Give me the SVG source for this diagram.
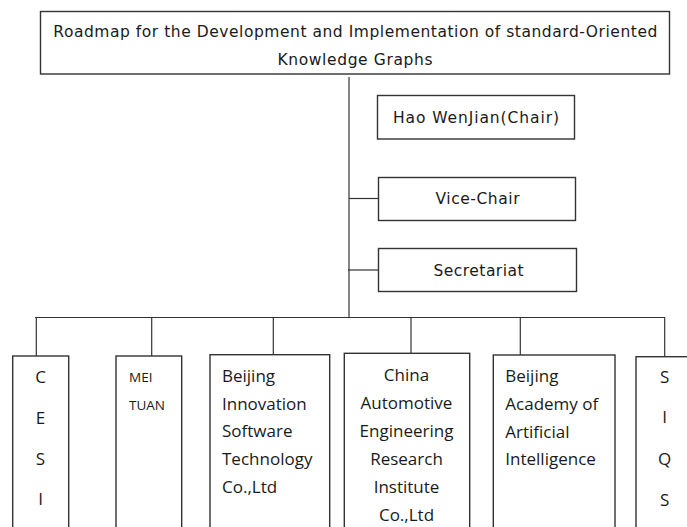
<svg xmlns="http://www.w3.org/2000/svg" width="687" height="527" viewBox="0 0 687 527">
<style>
.box{fill:#fff;stroke:#333;stroke-width:1.4}
.ln{stroke:#333;stroke-width:1.2;fill:none}
.t1{font-family:"DejaVu Sans","Liberation Sans",sans-serif;font-size:15.5px;fill:#1a1a1a}
.t2{font-family:"Open Sans","Liberation Sans",sans-serif;font-size:17px;fill:#1a1a1a}
.t3{font-family:"Open Sans","Liberation Sans",sans-serif;font-size:13.5px;fill:#1a1a1a}
.c{text-anchor:middle}
</style>
<rect width="687" height="527" fill="#fff"/>
<g id="connectors">
<path class="ln" d="M349,77V318"/>
<path class="ln" d="M349,198.5H378"/>
<path class="ln" d="M348,270H378"/>
<path class="ln" d="M35,317.5H665"/>
<path class="ln" d="M36.3,317.5V356"/>
<path class="ln" d="M151.7,317.5V356"/>
<path class="ln" d="M273.3,317.5V355"/>
<path class="ln" d="M411,317.5V353"/>
<path class="ln" d="M520.3,317.5V355"/>
<path class="ln" d="M664.7,317.5V357"/>
</g>
<g id="title">
<rect class="box" x="40.5" y="11.5" width="629" height="62.5"/>
<text class="t1 c" x="355.3" y="37" textLength="604">Roadmap for the Development and Implementation of standard-Oriented</text>
<text class="t1 c" x="355" y="64.5" textLength="155">Knowledge Graphs</text>
</g>
<g id="chair">
<rect class="box" x="377.5" y="95.5" width="197" height="43.5"/>
<text class="t1 c" x="476" y="122.5" textLength="166">Hao WenJian(Chair)</text>
</g>
<g id="vicechair">
<rect class="box" x="378.5" y="177.5" width="197" height="43"/>
<text class="t1 c" x="477.5" y="204" textLength="84">Vice-Chair</text>
</g>
<g id="secretariat">
<rect class="box" x="378.5" y="248.5" width="198" height="43"/>
<text class="t1 c" x="478.5" y="275.5" textLength="90">Secretariat</text>
</g>
<g id="cesi">
<rect class="box" x="12.7" y="356" width="56" height="190"/>
<text class="t2 c" x="40.5" y="383">C</text>
<text class="t2 c" x="40.5" y="424">E</text>
<text class="t2 c" x="40.5" y="465">S</text>
<text class="t2 c" x="40.5" y="505">I</text>
</g>
<g id="meituan">
<rect class="box" x="116" y="356" width="65.7" height="190"/>
<text class="t3" x="129" y="382">MEI</text>
<text class="t3" x="129" y="410">TUAN</text>
</g>
<g id="bist">
<rect class="box" x="210" y="354.7" width="119.7" height="190"/>
<text class="t2" x="222" y="382">Beijing</text>
<text class="t2" x="222" y="409.7">Innovation</text>
<text class="t2" x="222" y="437.4">Software</text>
<text class="t2" x="222" y="465.1">Technology</text>
<text class="t2" x="222" y="492.8">Co.,Ltd</text>
</g>
<g id="caeri">
<rect class="box" x="344.3" y="353.3" width="125.4" height="190"/>
<text class="t2 c" x="406.5" y="381">China</text>
<text class="t2 c" x="406.5" y="409">Automotive</text>
<text class="t2 c" x="406.5" y="436.7">Engineering</text>
<text class="t2 c" x="406.5" y="465">Research</text>
<text class="t2 c" x="406.5" y="492.7">Institute</text>
<text class="t2 c" x="406.5" y="521">Co.,Ltd</text>
</g>
<g id="baai">
<rect class="box" x="493.3" y="355" width="121.7" height="190"/>
<text class="t2" x="505.3" y="382">Beijing</text>
<text class="t2" x="505.3" y="409.5">Academy of</text>
<text class="t2" x="505.3" y="437.5">Artificial</text>
<text class="t2" x="505.3" y="465">Intelligence</text>
</g>
<g id="siqs">
<rect class="box" x="636" y="356.7" width="70" height="190"/>
<text class="t2 c" x="664.7" y="383">S</text>
<text class="t2 c" x="664.7" y="423">I</text>
<text class="t2 c" x="664.7" y="465">Q</text>
<text class="t2 c" x="664.7" y="505.5">S</text>
</g>
</svg>
